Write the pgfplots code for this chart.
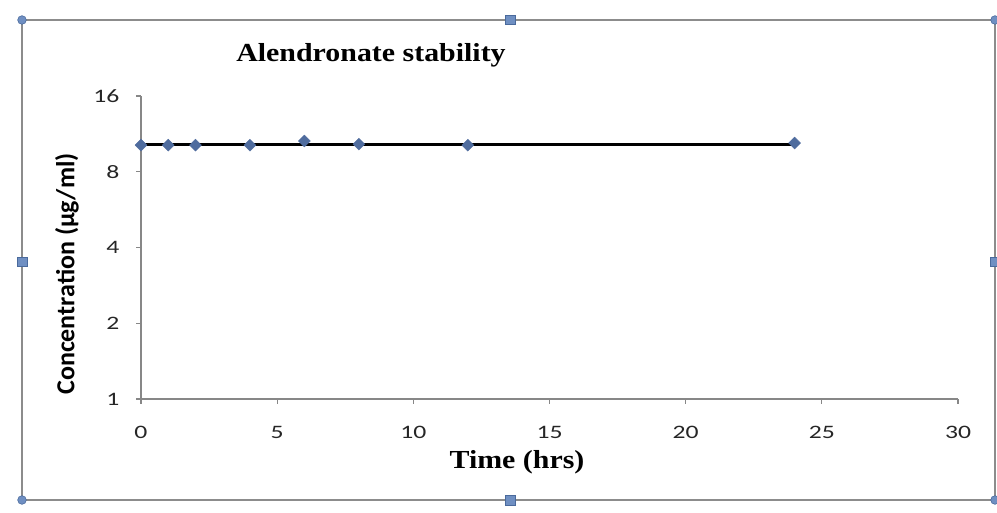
\documentclass[border=0pt]{standalone}
\usepackage{pgfplots}
\pgfplotsset{compat=1.18}
\usepackage{fontspec}
\setmainfont{Liberation Serif}
\newfontfamily\ttlfont{Liberation Serif}[FakeStretch=1.15]
\newfontfamily\tickfont{Carlito}[FakeStretch=1.35]
\newfontfamily\ylabfont{Carlito}
\definecolor{framegray}{HTML}{8C8C8C}
\definecolor{axisgray}{HTML}{878787}
\definecolor{handlefill}{HTML}{6F8FC2}
\definecolor{handledraw}{HTML}{4A6A9C}
\definecolor{markblue}{HTML}{4F6C9E}
\begin{document}
\begin{tikzpicture}[x=1pt,y=1pt]
\useasboundingbox (0,0) rectangle (997,512);
\fill[white] (0,0) rectangle (997,512);
\draw[framegray, line width=1.3pt] (22,492) rectangle (995,12);
% selection handles
\foreach \hx/\hy in {22/492,995/492,22/12,995/12}
  \filldraw[fill=handlefill, draw=handledraw, line width=0.6pt] (\hx,\hy) circle (4.3);
\foreach \hx/\hy in {510/492,510/12,22/250,995/250}
  \filldraw[fill=handlefill, draw=handledraw, line width=0.6pt] (\hx-4.8,\hy-4.8) rectangle (\hx+4.8,\hy+4.8);
\node[font=\ttlfont\bfseries\fontsize{26}{28}\selectfont] at (371,457) {Alendronate stability};
\node[font=\ttlfont\bfseries\fontsize{26}{28}\selectfont] at (517,50) {Time (hrs)};
\node[font=\ylabfont\bfseries\fontsize{26}{28}\selectfont, rotate=90] at (67,238) {Concentration (µg/ml)};
\begin{axis}[
  at={(141pt,113pt)}, anchor=south west, scale only axis,
  width=817pt, height=303pt,
  xmin=0, xmax=30,
  ymode=log, log basis y=2, ymin=1, ymax=16,
  ytick={1,2,4,8,16}, yticklabels={1,2,4,8,16},
  xtick={0,5,10,15,20,25,30},
  /pgf/number format/assume math mode=true,
  axis x line*=bottom, axis y line*=left,
  tick align=outside, major tick length=5pt,
  axis line style={axisgray, line width=1.2pt},
  tick style={axisgray, line width=1.2pt},
  ticklabel style={font=\tickfont\fontsize{19}{21}\selectfont, color=black!85},
  yticklabel style={xshift=-13pt},
  xticklabel style={yshift=-19pt},
  clip=false,
]
\addplot[only marks, mark=square*, mark size=4.2pt, mark options={rotate=45, fill=markblue, draw=markblue}]
  coordinates {(0,10.2) (1,10.2) (2,10.2) (4,10.2) (6,10.6) (8,10.3) (12,10.2) (24,10.4)};
\addplot[black, line width=3pt] coordinates {(0,10.25) (24,10.25)};
\end{axis}
\end{tikzpicture}
\end{document}
